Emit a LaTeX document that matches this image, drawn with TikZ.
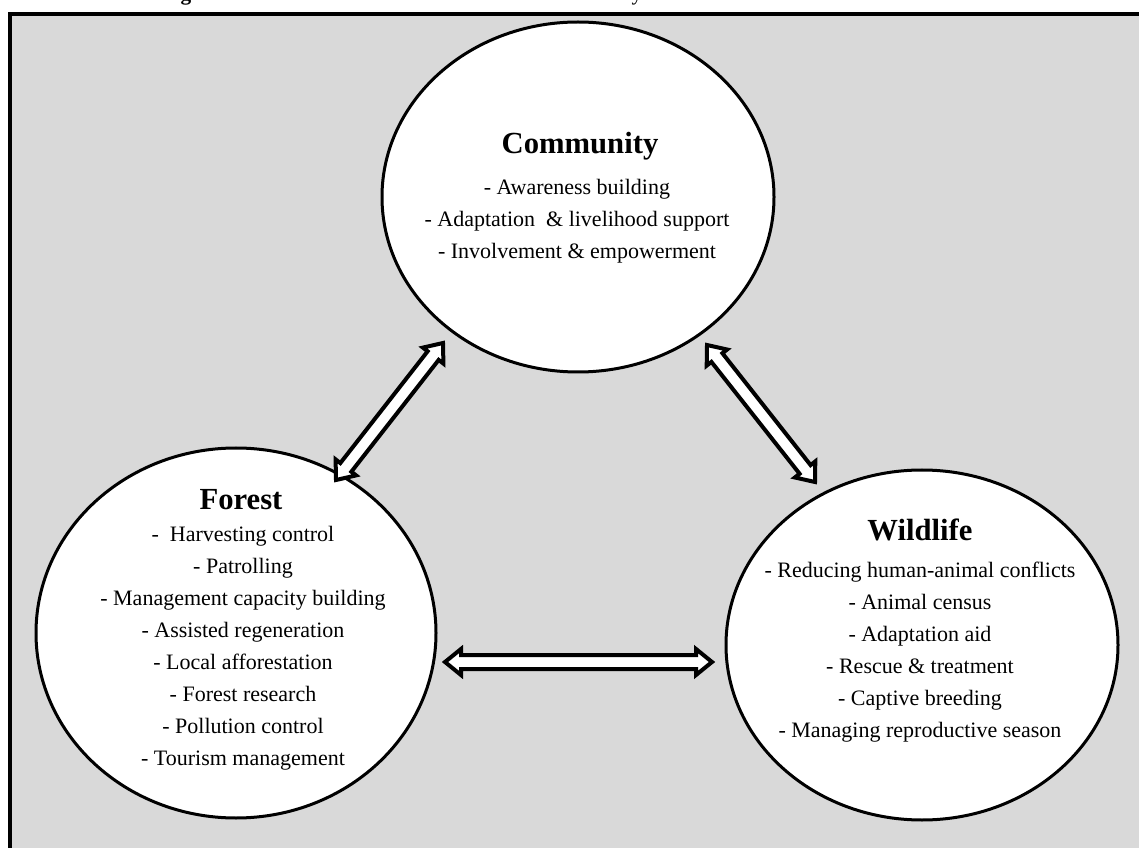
\documentclass[tikz,border=0pt]{standalone}
\usepackage{fontspec}
\setmainfont{Liberation Serif}
\usetikzlibrary{shapes.geometric,calc}
\definecolor{panel}{HTML}{D9D9D9}
\tikzset{
  bubble/.style={ellipse, draw=black, line width=2.25pt, fill=white, inner sep=0pt,
                 minimum width=294pt, minimum height=262.5pt},
  heading/.style={font=\fontsize{23}{26}\selectfont\bfseries, anchor=center, inner sep=0pt},
  items/.style={font=\fontsize{16.5}{24}\selectfont, align=center, anchor=center, inner sep=0pt},
  linkarrow/.style={draw=black, fill=white, line width=3pt, line join=miter},
  cut/.style={anchor=base, inner sep=0pt},
}
% hollow two-headed block arrow between two named points
\newcommand\twoheaded[2]{%
  \path[linkarrow] (#1)
    -- ($(#1)!12pt!(#2)!9.75pt!90:(#2)$)
    -- ($(#1)!12pt!(#2)!5.25pt!90:(#2)$)
    -- ($(#2)!12pt!(#1)!5.25pt!-90:(#1)$)
    -- ($(#2)!12pt!(#1)!9.75pt!-90:(#1)$)
    -- (#2)
    -- ($(#2)!12pt!(#1)!9.75pt!90:(#1)$)
    -- ($(#2)!12pt!(#1)!5.25pt!90:(#1)$)
    -- ($(#1)!12pt!(#2)!5.25pt!-90:(#2)$)
    -- ($(#1)!12pt!(#2)!9.75pt!-90:(#2)$)
    -- cycle;}
\begin{document}
\begin{tikzpicture}[x=0.75pt, y=-0.75pt]
\useasboundingbox (0,0) rectangle (1139,848);

% caption line, cut by the page edge
\node[cut, font=\fontsize{16}{18}\selectfont\bfseries] (capg) at (186,1) {g};
\node[cut, font=\fontsize{16}{18}\selectfont] (capy) at (637,1) {y};

% framed grey panel
\draw[fill=panel, line width=3pt] (10,14) rectangle (1170,880);

% the three domains
\node[bubble] (comm) at (578,197) {};
\node[bubble, minimum width=300pt, minimum height=277.5pt] (forest) at (236,633) {};
\node[bubble] (wild) at (922,645) {};

\node[heading] (commtitle) at (580,146) {Community};
\node[items] (commlist) at (577,221) {- Awareness building\\- Adaptation \ \& livelihood support\\- Involvement \& empowerment};

\node[heading] (foresttitle) at (241,500) {Forest};
\node[items] (forestlist) at (243,648) {- \ Harvesting control\\- Patrolling\\- Management capacity building\\- Assisted regeneration\\- Local afforestation\\- Forest research\\- Pollution control\\- Tourism management};

\node[heading] (wildtitle) at (920,530) {Wildlife};
\node[items] (wildlist) at (920,652) {- Reducing human-animal conflicts\\- Animal census\\- Adaptation aid\\- Rescue \& treatment\\- Captive breeding\\- Managing reproductive season};

% arrow end points
\coordinate (fcA) at (336,480);
\coordinate (fcB) at (443,343);
\coordinate (wcA) at (815,482);
\coordinate (wcB) at (707,345);
\coordinate (fwA) at (445,662);
\coordinate (fwB) at (712,662);

\twoheaded{fcA}{fcB}
\twoheaded{wcA}{wcB}
\twoheaded{fwA}{fwB}
\end{tikzpicture}
\end{document}
